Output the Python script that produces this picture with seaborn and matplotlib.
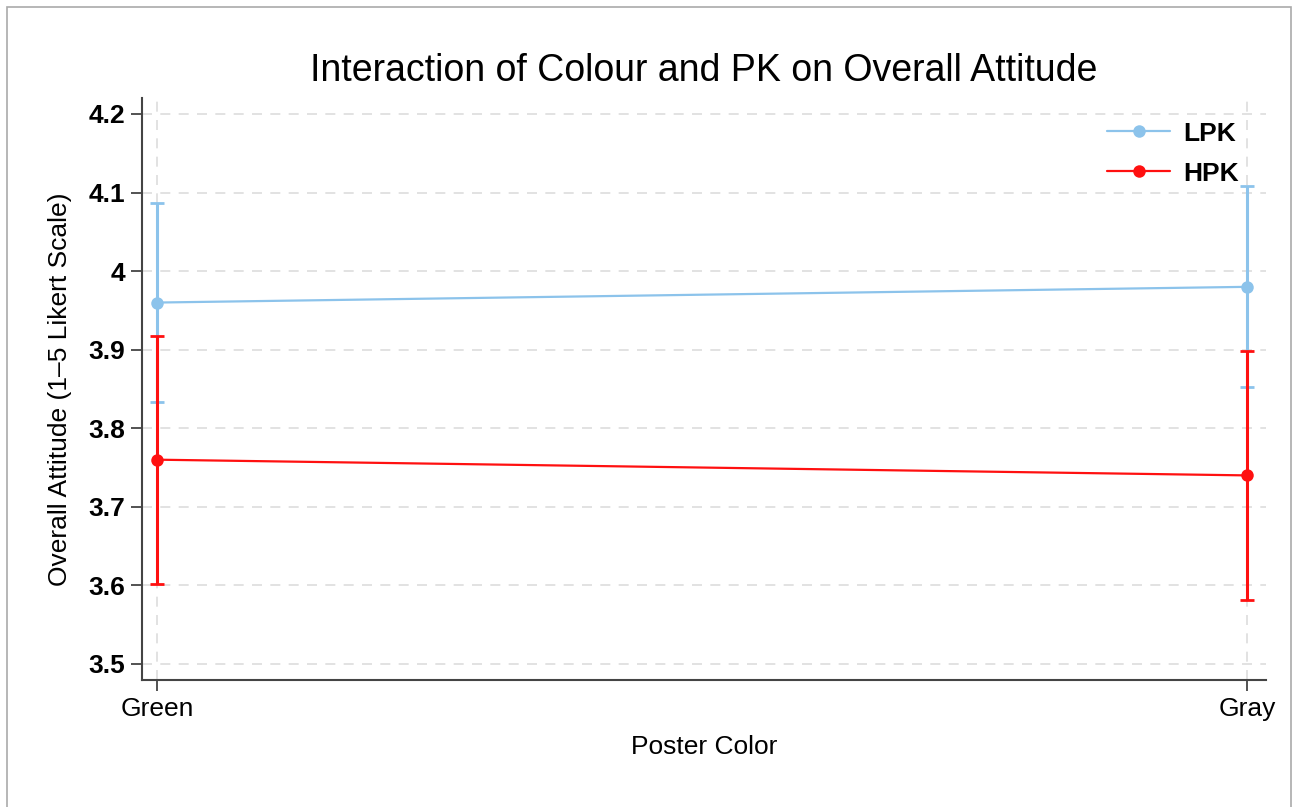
import pandas as pd
import matplotlib
matplotlib.use("Agg")
import matplotlib.pyplot as plt
import seaborn as sns
from matplotlib.patches import Rectangle

# data
colors = ["Green", "Gray"]
groups = ["LPK", "HPK"]
lpk_mean = [3.96, 3.98]
lpk_err = [0.127, 0.128]
hpk_mean = [3.76, 3.74]
hpk_err = [0.158, 0.158]
yticks = [3.5, 3.6, 3.7, 3.8, 3.9, 4.0, 4.1, 4.2]
ytick_labels = ["3.5", "3.6", "3.7", "3.8", "3.9", "4", "4.1", "4.2"]

df = pd.DataFrame({
    "Poster Color": colors * 2,
    "pos": [0, 1] * 2,
    "group": [groups[0]] * 2 + [groups[1]] * 2,
    "mean": lpk_mean + hpk_mean,
    "err": lpk_err + hpk_err,
})

palette = {"LPK": "#8CC3EB", "HPK": "#FF1010"}

sns.set_style("white")
plt.rcParams["font.family"] = ["Liberation Sans", "DejaVu Sans"]
plt.rcParams["text.color"] = "black"
plt.rcParams["axes.labelcolor"] = "black"
plt.rcParams["xtick.labelcolor"] = "black"
plt.rcParams["ytick.labelcolor"] = "black"

fig = plt.figure(figsize=(12.93, 8.07), dpi=100)
ax = fig.add_axes([0.1098, 0.1574, 0.979 - 0.1098, 0.8786 - 0.1574])

# gridlines
for y in yticks:
    ax.axhline(y, color="#DDDDDD", lw=1.2, ls=(0, (6, 5)), zorder=0)
for x in [0, 1]:
    ax.axvline(x, color="#DDDDDD", lw=1.2, ls=(0, (6, 5)), zorder=0)

sns.lineplot(data=df, x="pos", y="mean", hue="group", palette=palette,
             marker="o", markersize=9, markeredgewidth=0, linewidth=1.6,
             ax=ax, zorder=3)

for g in groups:
    sub = df[df["group"] == g]
    ax.errorbar(sub["pos"], sub["mean"], yerr=sub["err"], fmt="none",
                ecolor=palette[g], elinewidth=2.2, capsize=5, capthick=2,
                zorder=2)

ax.set_xlim(-0.0138, 1.0174)
ax.set_ylim(3.4796, 4.2204)
ax.set_xticks([0, 1])
ax.set_xticklabels(colors, fontsize=19)
ax.set_yticks(yticks)
ax.set_yticklabels(ytick_labels, fontsize=19, fontweight="bold")
ax.tick_params(axis="both", direction="out", length=8, width=1.3,
               color="#444444", left=True, bottom=True, pad=4)

ax.set_xlabel("Poster Color", fontsize=19, labelpad=10)
ax.set_ylabel("Overall Attitude (1\u20135 Likert Scale)", fontsize=19, labelpad=12)
ax.set_title("Interaction of Colour and PK on Overall Attitude", fontsize=27, pad=12)

sns.despine(ax=ax)
for s in ["left", "bottom"]:
    ax.spines[s].set_color("#444444")
    ax.spines[s].set_linewidth(1.5)

leg = ax.legend(loc="upper right", frameon=False, fontsize=19,
                handlelength=2.4, handletextpad=0.5, borderaxespad=0.5,
                labelspacing=0.6, bbox_to_anchor=(0.9975, 1.0))
for t in leg.get_texts():
    t.set_fontweight("bold")

# outer frame of the original image
W, H = 1293, 807
fig.patches.append(Rectangle((7 / W, -0.1), (1291 - 7) / W, (H - 7) / H + 0.1,
                             transform=fig.transFigure, fill=False,
                             edgecolor="#AAAAAA", lw=1.2))

fig.savefig("out.png", dpi=100)
